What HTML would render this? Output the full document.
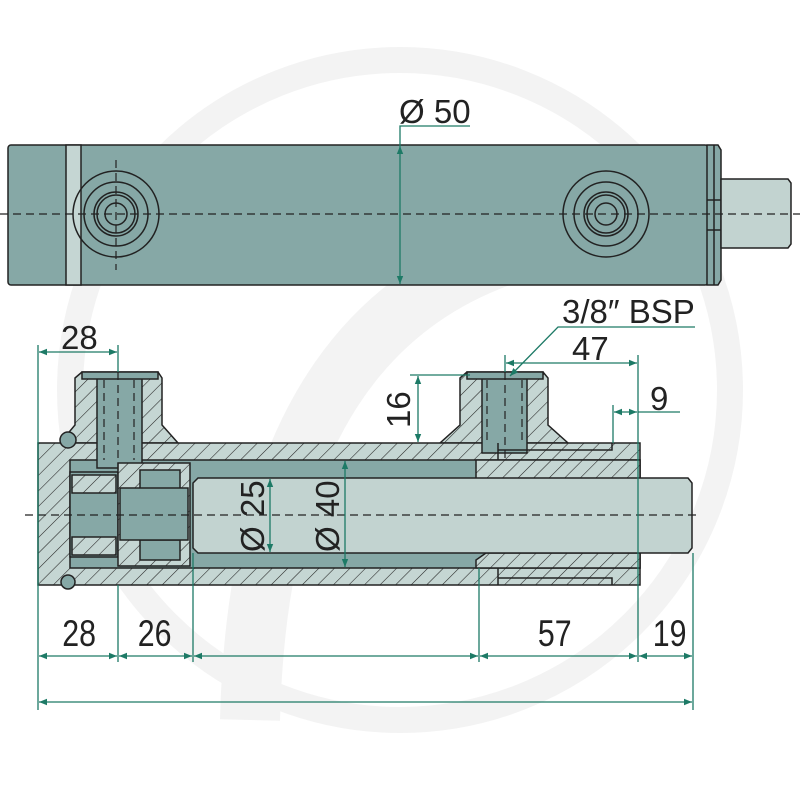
<!DOCTYPE html>
<html><head><meta charset="utf-8"><style>html,body{margin:0;padding:0;background:#fff}svg{display:block}</style></head><body>
<svg width="800" height="800" viewBox="0 0 800 800" xmlns="http://www.w3.org/2000/svg" font-family="Liberation Sans, sans-serif">
<defs>
<pattern id="h" width="11" height="11" patternUnits="userSpaceOnUse" patternTransform="rotate(45)">
<rect width="11" height="11" fill="#c5d6d3"/><line x1="0" y1="0" x2="0" y2="11" stroke="#222" stroke-width="1.1"/></pattern>
<marker id="a" viewBox="0 0 10 10" refX="10" refY="5" markerWidth="11" markerHeight="8" orient="auto-start-reverse" markerUnits="userSpaceOnUse"><path d="M0,1 L10,5 L0,9 z" fill="#1d7a66"/></marker>
</defs>
<g fill="none" stroke="#f3f3f3">
<circle cx="400" cy="390" r="330" stroke-width="26"/>
<path d="M250 720 Q260 300 560 240 L700 240" stroke-width="60"/>
</g>
<g stroke="#222" stroke-width="1.5">
<rect x="8" y="145" width="700" height="140" rx="3" fill="#86a8a6"/>
<rect x="66" y="145" width="15" height="140" fill="#c5d6d3"/>
<path d="M707 145 L718 145 L721 150 L721 280 L718 285 L707 285 Z" fill="#86a8a6"/>
<line x1="714" y1="145" x2="714" y2="285"/>
<line x1="707" y1="200" x2="721" y2="200"/><line x1="707" y1="230" x2="721" y2="230"/>
<path d="M721 179 L788 179 L791 183 L791 244 L788 248 L721 248 Z" fill="#c2d3d0"/>
<g fill="none">
<circle cx="116" cy="214" r="43"/><circle cx="116" cy="214" r="32"/><circle cx="116" cy="214" r="22"/><circle cx="116" cy="214" r="19"/><circle cx="116" cy="214" r="11"/>
<circle cx="606" cy="214" r="43"/><circle cx="606" cy="214" r="32"/><circle cx="606" cy="214" r="22"/><circle cx="606" cy="214" r="19"/><circle cx="606" cy="214" r="11"/>
</g>
</g>
<g stroke="#222" stroke-width="1.2" stroke-dasharray="8 5">
<line x1="0" y1="214" x2="800" y2="214"/><line x1="116" y1="160" x2="116" y2="270"/>
</g>
<g stroke="#1d7a66" stroke-width="1.3" fill="none">
<line x1="400" y1="146" x2="400" y2="284" marker-start="url(#a)" marker-end="url(#a)"/>
<polyline points="400,146 400,126 470,126"/>
</g>
<text x="399" y="123" font-size="33" fill="#222">Ø 50</text>
<g stroke="#222" stroke-width="1.5">
<path d="M75 378 L82 372 L158 372 L162 378 L162 425 L178 443 L60 443 L75 425 Z" fill="url(#h)"/>
<path d="M460 378 L467 372 L543 372 L548 378 L548 425 L568 443 L440 443 L460 425 Z" fill="url(#h)"/>
<rect x="38" y="443" width="602" height="142" fill="url(#h)"/>
<rect x="70" y="460" width="570" height="108" fill="#86a8a6"/>
<rect x="97" y="378" width="45" height="90" fill="#86a8a6"/>
<rect x="482" y="378" width="45" height="75" fill="#86a8a6"/>
<rect x="82" y="372" width="76" height="7" fill="#86a8a6"/>
<rect x="467" y="372" width="76" height="7" fill="#86a8a6"/>
<path d="M476 460 L640 460 L640 553 L486 553 L476 545 Z" fill="url(#h)"/>
<path d="M476 568 L640 568 L640 553 L486 553 L476 560 Z" fill="url(#h)"/>
<rect x="70" y="472" width="48" height="85" fill="#86a8a6"/>
<rect x="72" y="475" width="44" height="18" fill="url(#h)"/>
<rect x="72" y="537" width="44" height="18" fill="url(#h)"/>
<path d="M118 463 L190 463 L190 566 L118 566 Z" fill="url(#h)"/>
<rect x="140" y="470" width="40" height="20" fill="#86a8a6"/>
<rect x="140" y="540" width="40" height="20" fill="#86a8a6"/>
<rect x="120" y="488" width="68" height="52" fill="#86a8a6"/>
<path d="M198 478 L688 478 L692 483 L692 548 L688 553 L198 553 L193 548 L193 483 Z" fill="#c2d3d0"/>
<path d="M498 443 L498 460 M612 443 L612 450 L498 450" fill="none"/>
<path d="M498 585 L498 568 M612 585 L612 578 L498 578" fill="none"/>
<circle cx="68" cy="440" r="8" fill="#86a8a6"/>
<circle cx="68" cy="582" r="7" fill="#86a8a6"/>
</g>
<g stroke="#222" stroke-width="1.2" stroke-dasharray="8 5" fill="none">
<line x1="25" y1="515" x2="700" y2="515"/>
<line x1="118" y1="372" x2="118" y2="470"/><line x1="505" y1="372" x2="505" y2="460"/>
<line x1="104" y1="380" x2="104" y2="460"/><line x1="134" y1="380" x2="134" y2="460"/>
<line x1="487" y1="380" x2="487" y2="445"/><line x1="522" y1="380" x2="522" y2="445"/>
</g>
<g stroke="#1d7a66" stroke-width="1.3" fill="none">
<line x1="38" y1="345" x2="38" y2="710"/><line x1="118" y1="345" x2="118" y2="372"/>
<line x1="118" y1="585" x2="118" y2="662"/><line x1="193" y1="553" x2="193" y2="662"/>
<line x1="479" y1="568" x2="479" y2="662"/><line x1="638" y1="355" x2="638" y2="662"/>
<line x1="693" y1="553" x2="693" y2="710"/>
<line x1="39" y1="352" x2="117" y2="352" marker-start="url(#a)" marker-end="url(#a)"/>
<line x1="410" y1="375" x2="470" y2="375"/>
<line x1="418" y1="376" x2="418" y2="442" marker-start="url(#a)" marker-end="url(#a)"/>
<line x1="506" y1="363" x2="637" y2="363" marker-start="url(#a)" marker-end="url(#a)"/>
<line x1="505" y1="355" x2="505" y2="372"/>
<polyline points="695,327 558,327 510,376" marker-end="url(#a)"/>
<line x1="613" y1="405" x2="613" y2="443"/>
<line x1="614" y1="412" x2="637" y2="412" marker-start="url(#a)" marker-end="url(#a)"/>
<line x1="638" y1="412" x2="680" y2="412"/>
<line x1="270" y1="479" x2="270" y2="552" marker-start="url(#a)" marker-end="url(#a)"/>
<line x1="345" y1="461" x2="345" y2="567" marker-start="url(#a)" marker-end="url(#a)"/>
<line x1="39" y1="656" x2="117" y2="656" marker-start="url(#a)" marker-end="url(#a)"/>
<line x1="119" y1="656" x2="192" y2="656" marker-start="url(#a)" marker-end="url(#a)"/>
<line x1="194" y1="656" x2="478" y2="656" marker-start="url(#a)" marker-end="url(#a)"/>
<line x1="480" y1="656" x2="637" y2="656" marker-start="url(#a)" marker-end="url(#a)"/>
<line x1="639" y1="656" x2="692" y2="656" marker-start="url(#a)" marker-end="url(#a)"/>
<line x1="39" y1="702" x2="692" y2="702" marker-start="url(#a)" marker-end="url(#a)"/>
</g>
<g fill="#222" font-size="33">
<text x="61" y="349">28</text>
<text x="562" y="323">3/8″ BSP</text>
<text x="572" y="360">47</text>
<text x="650" y="410">9</text>
<text transform="translate(410,428) rotate(-90)">16</text>
<text transform="translate(264,552) rotate(-90)">Ø 25</text>
<text transform="translate(339,552) rotate(-90)">Ø 40</text>
<g transform="scale(0.82,1)" font-size="37">
<text x="76" y="646">28</text>
<text x="168" y="646">26</text>
<text x="656" y="646">57</text>
<text x="796" y="646">19</text>
</g>
</g>
</svg>
</body></html>
